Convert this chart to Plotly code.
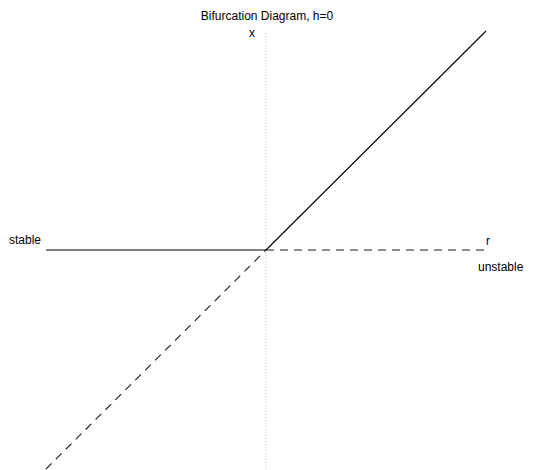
import plotly.graph_objects as go

# Transcritical bifurcation: fixed points x* = 0 and x* = r
r_neg = [-1.0, 0.0]
r_pos = [0.0, 1.0]
x_zero_neg = [0.0, 0.0]
x_zero_pos = [0.0, 0.0]
x_eq_r_neg = [-1.0, 0.0]
x_eq_r_pos = [0.0, 1.0]
axis_r = [0.0, 0.0]
axis_x = [-1.0, 1.0]

W, H = 534, 470
solid = dict(color="black", width=1.1)
dashed = dict(color="#1a1a1a", width=1.1, dash="8px,6px")

fig = go.Figure()
# vertical x-axis through r = 0
fig.add_trace(go.Scatter(x=axis_r, y=axis_x, mode="lines",
                         line=dict(color="#c8c8c8", width=1, dash="1px,2px")))
# x* = 0 : stable for r < 0, unstable for r > 0
fig.add_trace(go.Scatter(x=r_neg, y=x_zero_neg, mode="lines", line=solid))
fig.add_trace(go.Scatter(x=r_pos, y=x_zero_pos, mode="lines", line=dashed))
# x* = r : unstable for r < 0, stable for r > 0
fig.add_trace(go.Scatter(x=r_neg, y=x_eq_r_neg, mode="lines", line=dashed))
fig.add_trace(go.Scatter(x=r_pos, y=x_eq_r_pos, mode="lines", line=solid))

font = dict(family="Liberation Sans, Arial, sans-serif", size=12, color="black")
annotations = [
    dict(x=-1.0, y=0.0, text="stable", xanchor="right", yanchor="middle",
         xshift=-3, yshift=10),
    dict(x=1.0, y=0.0, text="r", xanchor="left", yanchor="middle",
         xshift=-2, yshift=9),
    dict(x=1.0, y=0.0, text="unstable", xanchor="left", yanchor="middle",
         xshift=-10, yshift=-17),
    dict(x=0.0, y=1.0, text="x", xanchor="center", yanchor="middle",
         xshift=-14, yshift=-2),
]
for a in annotations:
    a.update(xref="x", yref="y", showarrow=False, font=font)

fig.update_layout(
    width=W, height=H,
    margin=dict(l=0, r=0, t=0, b=0),
    paper_bgcolor="white", plot_bgcolor="white",
    showlegend=False,
    title=dict(text="Bifurcation Diagram, h=0", x=0.5, xanchor="center",
               y=1 - 16 / H, yanchor="middle", font=font),
    xaxis=dict(range=[-266 / 220, (W - 266) / 220], visible=False, fixedrange=True),
    yaxis=dict(range=[-(H - 250) / 219, 250 / 219], visible=False, fixedrange=True),
    annotations=annotations,
)

fig.write_html("out.html", config={"displayModeBar": False})
